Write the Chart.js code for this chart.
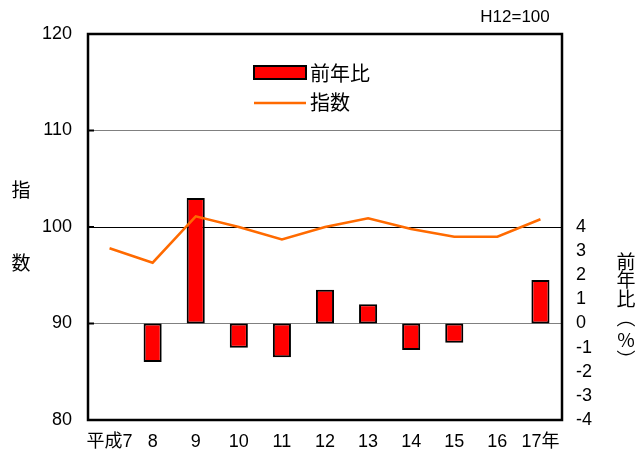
<!DOCTYPE html>
<html><head><meta charset="utf-8">
<script src="https://cdn.jsdelivr.net/npm/chart.js@4/dist/chart.umd.min.js"></script>
<style>html,body{margin:0;padding:0;background:#fff}#wrap{width:637px;height:459px}</style>
</head><body><div id="wrap"><canvas id="c" width="637" height="459"></canvas></div>
<script>
const categories = ['平成7','8','9','10','11','12','13','14','15','16','17年'];
const yoyChange = [null,-1.6,5.2,-1.0,-1.4,1.4,0.8,-1.1,-0.8,0,1.8];
const indexValues = [97.8,96.3,101.1,100.0,98.7,100.0,100.9,99.8,99.0,99.0,100.8];
const leftTicks = [80,90,100,110,120];
const rightTicks = [-4,-3,-2,-1,0,1,2,3,4];
const seriesNames = ['前年比','指数'];

const NUM_FONT = '"Liberation Sans", Arial, sans-serif';
const CJK_FONT = '"Liberation Sans", "Noto Sans CJK JP", sans-serif';
const JP = '"Noto Sans CJK JP", sans-serif';

const deco = {
  id:'deco',
  afterDraw(chart){
    const ctx = chart.ctx, a = chart.chartArea;
    ctx.save();
    ctx.strokeStyle = '#000'; ctx.lineWidth = 2.5;
    ctx.strokeRect(a.left, a.top, a.right-a.left, a.bottom-a.top);
    const ys = chart.scales.y;
    ctx.lineWidth = 2;
    leftTicks.forEach(v=>{const y=ys.getPixelForValue(v);ctx.beginPath();ctx.moveTo(a.left,y);ctx.lineTo(a.left+6,y);ctx.stroke();});
    const ds0 = chart.data.datasets[0], ds1 = chart.data.datasets[1];
    ctx.fillStyle = ds0.backgroundColor; ctx.strokeStyle = ds0.borderColor; ctx.lineWidth = 2;
    ctx.fillRect(254,66,52,13); ctx.strokeRect(254,66,52,13);
    ctx.strokeStyle = ds1.borderColor; ctx.lineWidth = 2.5;
    ctx.beginPath(); ctx.moveTo(254,103); ctx.lineTo(306,103); ctx.stroke();
    ctx.fillStyle = '#000'; ctx.font = '20px '+JP;
    ctx.textAlign='left'; ctx.textBaseline='middle';
    ctx.fillText(seriesNames[0], 310, 73);
    ctx.fillText(seriesNames[1], 310, 102);
    ctx.font = '17px '+NUM_FONT; ctx.textAlign='center';
    ctx.fillText('H12=100', 515, 17);
    ctx.font = '19px '+JP;
    ctx.fillText('指', 21, 190);
    ctx.fillText('数', 21, 263);
    const rt = ['前','年','比','︵','%','︶'];
    const ry = [262,280,299,318,340,360];
    rt.forEach((t,i)=>ctx.fillText(t, 626, ry[i]));
    ctx.restore();
  }
};

new Chart(document.getElementById('c'), {
  data:{
    labels: categories,
    datasets:[
      {type:'bar', label:seriesNames[0], data:yoyChange, yAxisID:'y1',
       backgroundColor:'#FF0000', borderColor:'#000', borderWidth:2, borderSkipped:false,
       categoryPercentage:0.84, barPercentage:0.5, order:2},
      {type:'line', label:seriesNames[1], data:indexValues, yAxisID:'y',
       borderColor:'#FF6A00', borderWidth:2.5, pointRadius:0, tension:0, fill:false, order:1}
    ]
  },
  options:{
    responsive:false, animation:false,
    layout:{padding:{left:0,right:0,top:34,bottom:0}},
    plugins:{legend:{display:false}, tooltip:{enabled:false}},
    scales:{
      x:{offset:true,
         grid:{display:false, drawTicks:false}, border:{display:false},
         ticks:{font:{size:18, family:CJK_FONT}, color:'#000', padding:11, maxRotation:0, autoSkip:false},
         afterFit(s){s.height=39;}},
      y:{position:'left', min:80, max:120,
         afterBuildTicks(s){s.ticks = leftTicks.map(v=>({value:v}));},
         grid:{drawTicks:false, color:(c)=>c.tick && c.tick.value===100 ? '#000' : '#808080', lineWidth:1},
         border:{display:false},
         ticks:{font:{size:18, family:NUM_FONT}, color:'#000', padding:16},
         afterFit(s){s.width=88;}},
      y1:{position:'right', min:-4, max:12,
         afterBuildTicks(s){s.ticks = rightTicks.map(v=>({value:v}));},
         grid:{display:false, drawTicks:false}, border:{display:false},
         ticks:{font:{size:18, family:NUM_FONT}, color:'#000', padding:14},
         afterFit(s){s.width=75;}}
    }
  },
  plugins:[deco]
});
</script></body></html>
